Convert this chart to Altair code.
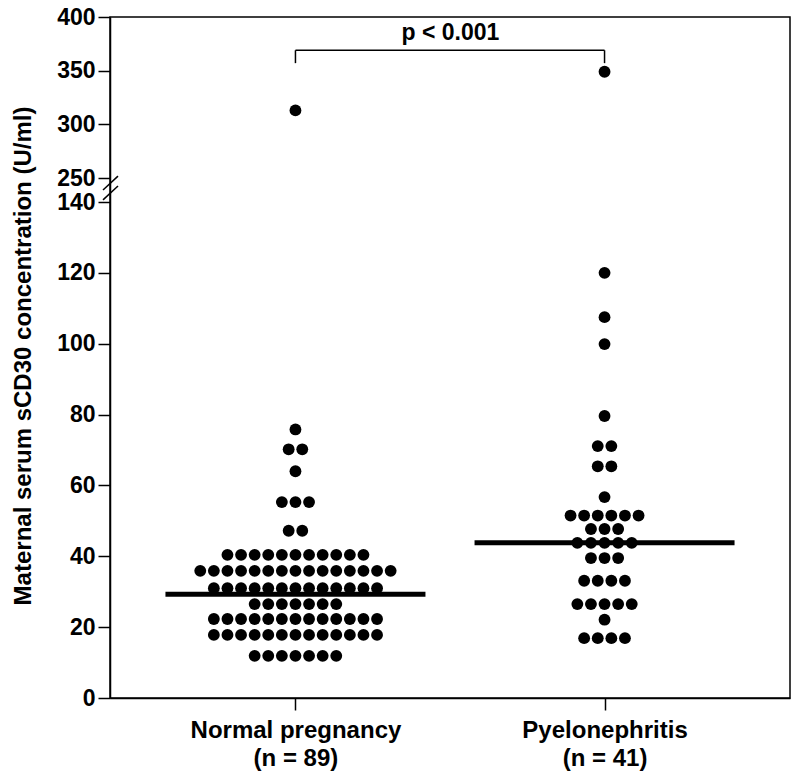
import altair as alt
import pandas as pd

# ---------------- data ----------------
groups = ["Normal pregnancy\n(n = 89)", "Pyelonephritis\n(n = 41)"]

normal_rows = [11.9, 17.8, 22.3, 26.5, 31.0, 35.9, 40.4, 47.2, 55.3, 64.0, 70.2, 75.8, 313.0]
normal_counts = [7, 13, 13, 7, 13, 15, 11, 2, 3, 1, 2, 1, 1]

pyelo_rows = [16.9, 22.1, 26.5, 33.1, 39.5, 43.8, 47.7, 51.5, 56.7, 65.4, 71.1, 79.6, 99.9, 107.5, 120.0, 349.0]
pyelo_counts = [4, 1, 5, 4, 3, 5, 3, 6, 1, 2, 2, 1, 1, 1, 1, 1]

medians = [29.3, 43.8]

lower_ticks = [0, 20, 40, 60, 80, 100, 120, 140]
upper_ticks = [250, 300, 350, 400]

p_text = "p < 0.001"
bracket_top = 369.0
bracket_leg = 357.0
p_text_value = 385.0

# ---------------- broken axis mapping ----------------
LOW_MAX = 140.0
HIGH_MIN = 250.0
HIGH_MAX = 400.0
PX_LOW = 496.0 / 140.0        # px per unit in lower segment
PX_HIGH = 161.0 / 150.0       # px per unit in upper segment
GAP = 24.0 / PX_LOW           # break gap in display units
K = PX_HIGH / PX_LOW


def disp(v):
    return v if v <= LOW_MAX else LOW_MAX + GAP + (v - HIGH_MIN) * K


D_MAX = disp(HIGH_MAX)
H = 681
W = 680
SLOT_PX = 13.6

rows = []
for g, vals, cnts in [(groups[0], normal_rows, normal_counts), (groups[1], pyelo_rows, pyelo_counts)]:
    for v, n in zip(vals, cnts):
        for i in range(n):
            rows.append({"group": g, "value": v, "slot": i - (n - 1) / 2})
dots = pd.DataFrame(rows)

med_df = pd.DataFrame({"group": groups, "value": medians})

FONT = "Liberation Sans"
calc = f"datum.value <= {LOW_MAX} ? datum.value : {LOW_MAX + GAP} + (datum.value - {HIGH_MIN}) * {K}"

tick_values = [disp(v) for v in lower_ticks + upper_ticks]
label_expr = (
    f"datum.value <= {LOW_MAX + 0.01} ? format(datum.value, 'd') : "
    f"format(round({HIGH_MIN} + (datum.value - {LOW_MAX + GAP}) / {K}), 'd')"
)

x_enc = alt.X(
    "group:N",
    sort=groups,
    scale=alt.Scale(type="point", domain=groups, padding=0.6),
    axis=alt.Axis(
        title=None,
        labelExpr="split(datum.label, '\\n')",
        labelAngle=0,
        labelAlign="center",
        labelLimit=0,
        labelFontSize=24,
        labelFontWeight="bold",
        labelFont=FONT,
        labelColor="black",
        labelLineHeight=28,
        labelPadding=8,
        tickSize=12,
        labelBaseline="top",
    ),
)

y_scale = alt.Scale(domain=[0, D_MAX], nice=False, zero=False)

y_enc = alt.Y(
    "disp:Q",
    scale=y_scale,
    axis=alt.Axis(
        title="Maternal serum sCD30 concentration (U/ml)",
        values=tick_values,
        labelExpr=label_expr,
        labelFontSize=23,
        labelFontWeight="bold",
        labelFont=FONT,
        labelColor="black",
        labelPadding=3,
        tickSize=12,
        grid=False,
        titleFontSize=24,
        titleFont=FONT,
        titleFontWeight="bold",
        titleColor="black",
        titleX=-87,
        titleY=H / 2 - 2,
        titleAngle=270,
        titleBaseline="middle",
        titleAlign="center",
    ),
)

points = (
    alt.Chart(dots)
    .transform_calculate(disp=calc)
    .mark_circle(size=140, color="black", opacity=1)
    .encode(
        x=x_enc,
        y=y_enc,
        xOffset=alt.XOffset(
            "slot:Q",
            scale=alt.Scale(domain=[-10, 10], range=[-10 * SLOT_PX, 10 * SLOT_PX]),
        ),
    )
)

median_ticks = (
    alt.Chart(med_df)
    .transform_calculate(disp=calc)
    .mark_tick(size=260, thickness=5, color="black", opacity=1)
    .encode(x=alt.X("group:N", sort=groups), y=alt.Y("disp:Q"))
)

# significance bracket
br_h = pd.DataFrame({"g1": [groups[0]], "g2": [groups[1]], "value": [bracket_top]})
br_v = pd.DataFrame({"group": groups, "value": [bracket_top] * 2, "value2": [bracket_leg] * 2})
bracket_h = (
    alt.Chart(br_h)
    .transform_calculate(disp=calc)
    .mark_rule(color="black", strokeWidth=1.5)
    .encode(x=alt.X("g1:N"), x2="g2", y=alt.Y("disp:Q"))
)
bracket_v = (
    alt.Chart(br_v)
    .transform_calculate(disp=calc)
    .transform_calculate(disp2=calc.replace("datum.value", "datum.value2"))
    .mark_rule(color="black", strokeWidth=1.5)
    .encode(x=alt.X("group:N"), y=alt.Y("disp:Q"), y2="disp2:Q")
)
p_df = pd.DataFrame({"group": [groups[0]], "value": [p_text_value], "text": [p_text]})
p_label = (
    alt.Chart(p_df)
    .transform_calculate(disp=calc)
    .mark_text(font=FONT, fontSize=23, fontWeight="bold", color="black", dx=155, baseline="middle", align="center")
    .encode(x=alt.X("group:N"), y=alt.Y("disp:Q"), text="text:N")
)

# axis break marks (two slashes across the y axis between 140 and 250)
brk = pd.DataFrame({"a": [LOW_MAX + 0.6, LOW_MAX + 3.4], "b": [LOW_MAX + 4.5, LOW_MAX + 7.3]})
breaks = (
    alt.Chart(brk)
    .mark_rule(color="black", strokeWidth=1.5)
    .encode(x=alt.value(-7), x2=alt.value(8), y=alt.Y("a:Q"), y2="b:Q")
)

chart = (
    alt.layer(median_ticks, points, bracket_h, bracket_v, p_label, breaks)
    .properties(
        width=W,
        height=H,
        autosize=alt.AutoSizeParams(type="none"),
        padding={"left": 102, "top": 9, "right": 2, "bottom": 74},
        background="white",
    )
    .configure_view(stroke="black", strokeWidth=1.5)
    .configure_axis(domainColor="black", tickColor="black", domainWidth=1.5, tickWidth=1.5)
)

chart.save("out.html", embed_options={"renderer": "svg", "actions": False})
